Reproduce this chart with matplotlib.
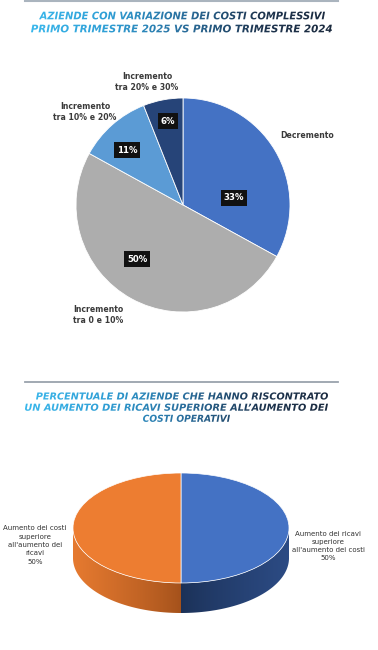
import numpy as np
import matplotlib
matplotlib.use('Agg')
import matplotlib.pyplot as plt
from matplotlib.textpath import TextPath
from matplotlib.font_manager import FontProperties
from matplotlib.patches import PathPatch, Polygon
from matplotlib.colors import LinearSegmentedColormap, to_rgb
import matplotlib.transforms as mtransforms

W, H = 378, 650

# --- chart 1: cost variation Q1 2025 vs Q1 2024
labels1 = ['Decremento', 'Incremento\ntra 0 e 10%', 'Incremento\ntra 10% e 20%', 'Incremento\ntra 20% e 30%']
values1 = [33, 50, 11, 6]
colors1 = ['#4472C4', '#ADADAD', '#5B9BD5', '#264478']

# --- chart 2: revenue increase vs cost increase
labels2 = ["Aumento dei ricavi\nsuperiore\nall'aumento dei costi", "Aumento dei costi\nsuperiore\nall'aumento dei\nricavi"]
values2 = [50, 50]
colors2 = ['#4472C4', '#ED7D31']
side_dark = ['#1b3157', '#a3511b']
side_light = ['#2c4b84', '#e67a30']

title1 = ['AZIENDE CON VARIAZIONE DEI COSTI COMPLESSIVI',
          'PRIMO TRIMESTRE 2025 VS PRIMO TRIMESTRE 2024']
title2 = ['PERCENTUALE DI AZIENDE CHE HANNO RISCONTRATO',
          'UN AUMENTO DEI RICAVI SUPERIORE ALL\u2019AUMENTO DEI',
          'COSTI OPERATIVI']


def px(x, y):
    return x / W, 1 - y / H


def axes_px(fig, x0, y0, x1, y1):
    return fig.add_axes([x0 / W, 1 - y1 / H, (x1 - x0) / W, (y1 - y0) / H])


fig = plt.figure(figsize=(W / 100, H / 100), dpi=100)
fig.patch.set_facecolor('white')

canvas = fig.add_axes([0, 0, 1, 1])
canvas.set_xlim(0, W)
canvas.set_ylim(H, 0)
canvas.axis('off')

grad = LinearSegmentedColormap.from_list('t', ['#3bb8ec', '#2f9fd6', '#2a6f9e', '#1e3550', '#1b2a3e'])
fp = FontProperties(family='DejaVu Sans', style='italic', weight='bold')
cap_ref = TextPath((0, 0), 'H', size=10, prop=fp).get_extents().height


def grad_text(s, x0, x1, base, cap, gx0, gx1):
    tp = TextPath((0, 0), s, size=10, prop=fp)
    bb = tp.get_extents()
    sx = (x1 - x0) / bb.width
    sy = cap / cap_ref
    tr = mtransforms.Affine2D().translate(-bb.x0, 0).scale(sx, -sy).translate(x0, base)
    path = tr.transform_path(tp)
    patch = PathPatch(path, facecolor='none', edgecolor='none', transform=canvas.transData)
    canvas.add_patch(patch)
    g = np.linspace(0, 1, 256).reshape(1, -1)
    im = canvas.imshow(g, cmap=grad, extent=(gx0, gx1, base + 3, base - cap - 3),
                       aspect='auto', interpolation='bilinear')
    im.set_clip_path(patch)


# rules
canvas.plot([25, 338], [1, 1], color='#aab4be', lw=1.5)
canvas.plot([25, 338], [382, 382], color='#9aa3ad', lw=1.3)

grad_text(title1[0], 39, 325, 19.3, 7.6, 30, 335)
grad_text(title1[1], 31, 332, 32.3, 7.6, 30, 335)
grad_text(title2[0], 36, 328, 399.5, 7.0, 25, 340)
grad_text(title2[1], 25, 328, 410.7, 7.0, 25, 340)
grad_text(title2[2], 143, 230, 421.8, 7.0, 25, 340)
canvas.set_xlim(0, W)
canvas.set_ylim(H, 0)

# --- pie 1
cx, cy, r = 183, 205, 107
m = 1.05
ax1 = axes_px(fig, cx - m * r, cy - m * r, cx + m * r, cy + m * r)
ax1.pie(values1, colors=colors1, startangle=90, counterclock=False, radius=1,
        wedgeprops=dict(edgecolor='white', linewidth=0.6))
ax1.set_xlim(-m, m)
ax1.set_ylim(-m, m)

pct_pos = [(234, 198), (137, 259), (127, 150), (168, 121)]
for v, (x, y) in zip(values1, pct_pos):
    fig.text(*px(x, y), f'{v}%', ha='center', va='center', color='white', fontsize=6.2,
             fontweight='bold', bbox=dict(boxstyle='square,pad=0.35', fc='#111111', ec='none'))

lab_pos = [(307, 135), (98, 315), (85, 112), (147, 82)]
for t, (x, y) in zip(labels1, lab_pos):
    fig.text(*px(x, y), t, ha='center', va='center', color='#3a3a3a', fontsize=5.6,
             fontweight='bold', linespacing=1.35)

# --- pie 2 (3D look)
cx2, cy2, rx, ry, depth = 181, 528, 108, 55, 30
dep = depth / ry
ax2 = axes_px(fig, cx2 - m * rx, cy2 - m * ry, cx2 + m * rx, cy2 + (1 + dep + 0.05) * ry)
wedges, _ = ax2.pie(values2, colors=colors2, startangle=90, counterclock=False, radius=1,
                    wedgeprops=dict(edgecolor='white', linewidth=0.5))
ax2.set_aspect('auto')

xs = np.linspace(-1, 1, 400)
for w, dk, lt in zip(wedges, side_dark, side_light):
    t1 = w.theta1 % 360
    t2 = t1 + (w.theta2 - w.theta1)
    c0, c1 = np.array(to_rgb(dk)), np.array(to_rgb(lt))
    k = (np.abs(xs) ** 0.8)[:, None]
    img = (c0 + (c1 - c0) * k)[None, :, :]
    for lo, hi in [(180, 360), (540, 720)]:
        a0, a1 = max(t1, lo), min(t2, hi)
        if a1 <= a0:
            continue
        angs = np.radians(np.linspace(a0, a1, 120))
        top = np.column_stack([np.cos(angs), np.sin(angs)])
        bot = np.column_stack([np.cos(angs[::-1]), np.sin(angs[::-1]) - dep])
        band = Polygon(np.vstack([top, bot]), closed=True, fc='none', ec='none',
                       transform=ax2.transData)
        ax2.add_patch(band)
        im = ax2.imshow(img, extent=(-1, 1, -1 - dep, 0.1), aspect='auto',
                        interpolation='bilinear', zorder=0.5)
        im.set_clip_path(band)

ax2.set_xlim(-m, m)
ax2.set_ylim(-1 - dep - 0.05, m)
ax2.axis('off')

lab2_pos = [(328, 546), (35, 545)]
for t, v, (x, y) in zip(labels2, values2, lab2_pos):
    fig.text(*px(x, y), f'{t}\n{v}%', ha='center', va='center', color='#333333',
             fontsize=5.0, linespacing=1.45)

fig.savefig('out.png', dpi=100, facecolor='white')
